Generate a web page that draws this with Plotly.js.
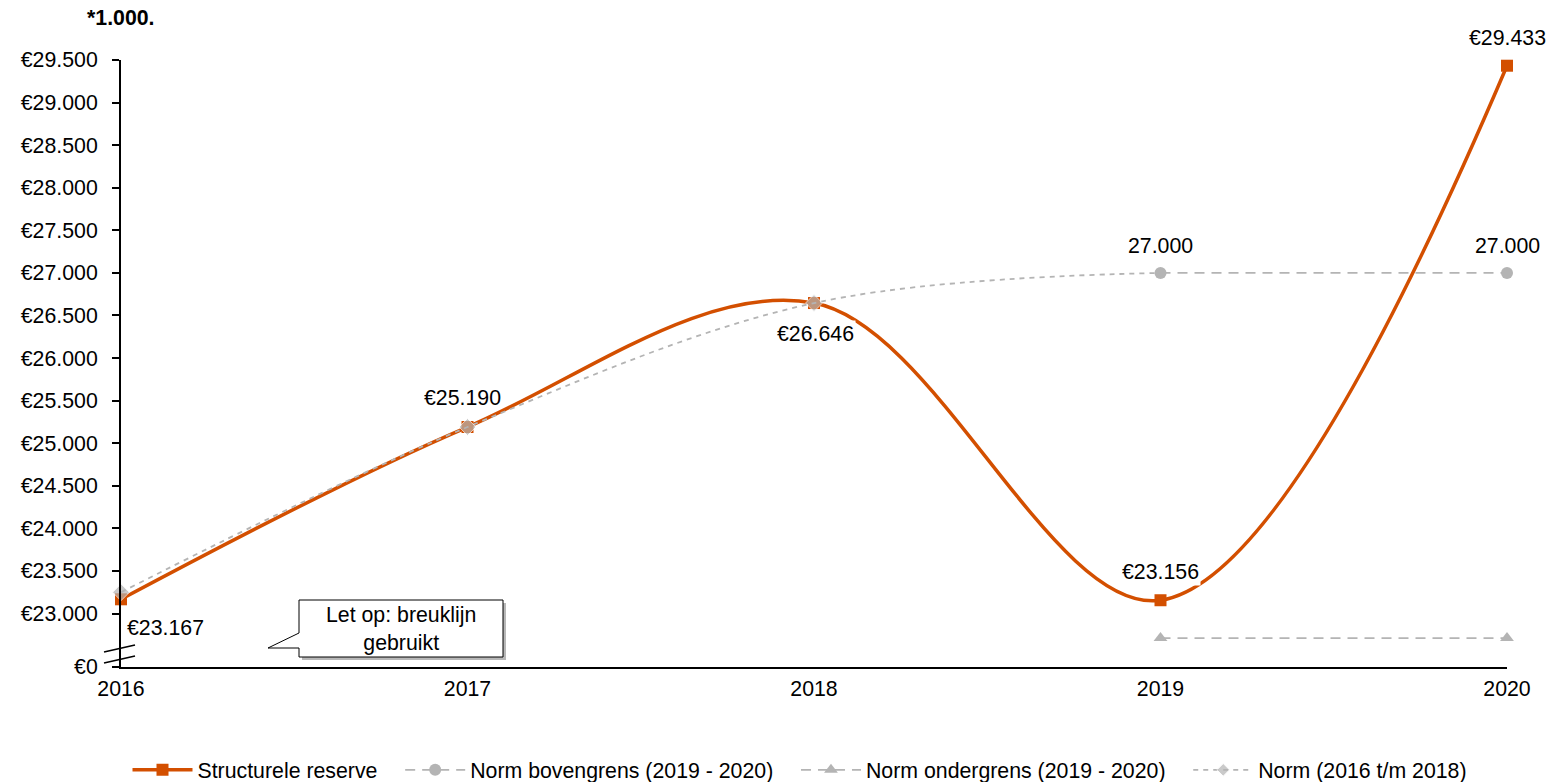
<!DOCTYPE html>
<html>
<head>
<meta charset="utf-8">
<script src="https://cdn.plot.ly/plotly-3.0.1.min.js"></script>
<style>html,body{margin:0;padding:0;background:#fff;}#chart{width:1568px;height:782px;}</style>
</head>
<body>
<div id="chart"></div>
<script>
// ---- data ----
const years = [2016, 2017, 2018, 2019, 2020];
const reserve = [23167, 25190, 26646, 23156, 29433];
const normYears = [2016, 2017, 2018, 2019];
const norm = [23250, 25190, 26646, 27000];
const upperYears = [2019, 2020];
const upper = [27000, 27000];
const lowerYears = [2019, 2020];
const lower = [22712, 22712];
const seriesNames = ['Structurele reserve', 'Norm bovengrens (2019 - 2020)', 'Norm ondergrens (2019 - 2020)', 'Norm (2016 t/m 2018)'];
const breakValue = 22372; // axis position where the broken axis shows €0
const yTickVals = [breakValue, 23000, 23500, 24000, 24500, 25000, 25500, 26000, 26500, 27000, 27500, 28000, 28500, 29000, 29500];
const yTickText = ['€0', '€23.000', '€23.500', '€24.000', '€24.500', '€25.000', '€25.500', '€26.000', '€26.500', '€27.000', '€27.500', '€28.000', '€28.500', '€29.000', '€29.500'];
const unitLabel = '*1.000.';
const noteText = 'Let op: breuklijn<br>gebruikt';

function fmt(v) { return String(Math.round(v)).replace(/\B(?=(\d{3})+(?!\d))/g, '.'); }

const ORANGE = '#D34F00';
const GREY = '#B4B4B4';
const FONT = 'Liberation Sans, Arial, sans-serif';
const FS = 21.3;
const PAD = '\u00a0\u00a0\u00a0';

const traces = [
  {x: years, y: reserve, name: seriesNames[0] + PAD, type: 'scatter', mode: 'lines+markers',
   line: {color: ORANGE, width: 3.5, shape: 'spline', smoothing: 1},
   marker: {symbol: 'square', size: 12, color: ORANGE}, cliponaxis: false},
  {x: upperYears, y: upper, name: seriesNames[1] + PAD, type: 'scatter', mode: 'lines+markers',
   line: {color: GREY, width: 1.8, dash: '10px,7px'},
   marker: {symbol: 'circle', size: 12, color: GREY}, cliponaxis: false},
  {x: lowerYears, y: lower, name: seriesNames[2] + PAD, type: 'scatter', mode: 'lines+markers',
   line: {color: GREY, width: 1.8, dash: '10px,7px'},
   marker: {symbol: 'triangle-up', size: 12, color: GREY}, cliponaxis: false},
  {x: normYears, y: norm, name: seriesNames[3], type: 'scatter', mode: 'lines+markers',
   line: {color: GREY, width: 1.8, dash: '5px,5px', shape: 'spline', smoothing: 1},
   marker: {symbol: 'diamond', size: [13, 13, 13, 0], color: GREY}, cliponaxis: false}
];

// data labels
const ann = [];
const resShift = [[44, -29, false], [-5, 29, false], [1, -31, true], [0, 28, true], [0, 28, false]];
years.forEach((yr, i) => {
  ann.push({x: yr, y: reserve[i], xref: 'x', yref: 'y', text: '€' + fmt(reserve[i]), showarrow: false,
    xshift: resShift[i][0], yshift: resShift[i][1], bgcolor: resShift[i][2] ? '#ffffff' : 'rgba(0,0,0,0)',
    font: {family: FONT, size: FS, color: '#000'}, borderpad: 1});
});
upperYears.forEach((yr, i) => {
  ann.push({x: yr, y: upper[i], xref: 'x', yref: 'y', text: fmt(upper[i]), showarrow: false,
    yshift: 27, font: {family: FONT, size: FS, color: '#000'}});
});

// pixel -> paper helpers for decorations
const L = 121, R = 1507, T = 60, B = 667;
const px = v => (v - L) / (R - L);
const py = v => (B - v) / (B - T);

ann.push({x: px(121), y: py(18), xref: 'paper', yref: 'paper', text: '<b>' + unitLabel + '</b>', showarrow: false,
  xanchor: 'center', yanchor: 'middle', font: {family: FONT, size: FS, color: '#000'}});
ann.push({x: px(401), y: py(629), xref: 'paper', yref: 'paper', text: noteText, showarrow: false,
  xanchor: 'center', yanchor: 'middle', align: 'center', font: {family: FONT, size: FS, color: '#000'}});

const shapes = [];
// callout shadow
shapes.push({type: 'path', xref: 'paper', yref: 'paper', layer: 'above',
  path: `M${px(302)},${py(603)} L${px(506)},${py(603)} L${px(506)},${py(660)} L${px(302)},${py(660)} Z`,
  fillcolor: 'rgba(0,0,0,0.28)', line: {width: 0}});
// callout body
shapes.push({type: 'path', xref: 'paper', yref: 'paper', layer: 'above',
  path: `M${px(299)},${py(600)} L${px(503)},${py(600)} L${px(503)},${py(657)} L${px(299)},${py(657)} L${px(299)},${py(648)} L${px(268)},${py(648)} L${px(299)},${py(633)} Z`,
  fillcolor: '#ffffff', line: {color: '#000', width: 1}});
// axis break marks
shapes.push({type: 'line', xref: 'paper', yref: 'paper', x0: px(104), y0: py(652), x1: px(135), y1: py(645), line: {color: '#000', width: 1.6}});
shapes.push({type: 'line', xref: 'paper', yref: 'paper', x0: px(104), y0: py(663), x1: px(135), y1: py(656), line: {color: '#000', width: 1.6}});

const layout = {
  width: 1568, height: 782,
  margin: {l: L, r: 1568 - R, t: T, b: 782 - B, autoexpand: false},
  paper_bgcolor: '#fff', plot_bgcolor: '#fff',
  font: {family: FONT, size: FS, color: '#000'},
  showlegend: true,
  legend: {orientation: 'h', x: px(800), xanchor: 'center', y: py(770), yanchor: 'middle',
    font: {family: FONT, size: FS, color: '#000'}, itemwidth: 60},
  xaxis: {range: [2016, 2020], tickvals: years, ticktext: years.map(String), showgrid: false, zeroline: false,
    showline: true, linecolor: '#000', linewidth: 2, ticks: '', ticklabelstandoff: 1, fixedrange: true},
  yaxis: {range: [breakValue, 29500], tickvals: yTickVals, ticktext: yTickText, showgrid: false, zeroline: false,
    showline: true, linecolor: '#000', linewidth: 2, ticks: 'outside', ticklen: 7, tickwidth: 2, tickcolor: '#000',
    ticklabelstandoff: 10, fixedrange: true},
  annotations: ann,
  shapes: shapes
};

Plotly.newPlot('chart', traces, layout, {displayModeBar: false, staticPlot: true});
</script>
</body>
</html>
